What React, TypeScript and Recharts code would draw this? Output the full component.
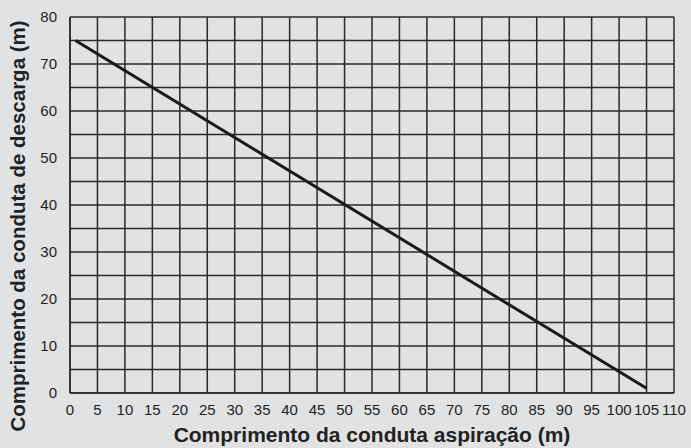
import { LineChart, Line, XAxis, YAxis, CartesianGrid, ReferenceLine, Label } from "recharts";

const xTicks = [0, 5, 10, 15, 20, 25, 30, 35, 40, 45, 50, 55, 60, 65, 70, 75, 80, 85, 90, 95, 100, 105, 110];
const yTicks = [0, 10, 20, 30, 40, 50, 60, 70, 80];
const yMinor = [5, 15, 25, 35, 45, 55, 65, 75];

const aspiracao = [1, 105];
const descarga = [75, 1];

const data = aspiracao.map((a, i) => ({ aspiracao: a, descarga: descarga[i] }));

const grid = "#2a2a2a";
const font = "'Liberation Sans', Arial, sans-serif";

export default function App() {
  return (
    <div style={{ position: "absolute", left: 0, top: 0, width: 691, height: 448, background: "#e1e2e3" }}>
      <LineChart width={691} height={448} data={data} margin={{ top: 17, right: 17, left: 30, bottom: 25 }}>
        <CartesianGrid stroke={grid} strokeWidth={1.5} />
        {yMinor.map((v) => (
          <ReferenceLine key={v} y={v} stroke={grid} strokeWidth={1.5} />
        ))}
        <XAxis
          type="number"
          dataKey="aspiracao"
          domain={[0, 110]}
          ticks={xTicks}
          interval={0}
          tickLine={false}
          axisLine={{ stroke: grid, strokeWidth: 1.5 }}
          tickMargin={5}
          height={30}
          tick={{ fill: "#1f1f1f", fontSize: 15, fontFamily: font }}
        >
          <Label
            content={() => (
              <text x={372} y={442} textAnchor="middle" fontFamily={font} fontSize={21} fontWeight="bold" fill="#222">
                Comprimento da conduta aspiração (m)
              </text>
            )}
          />
        </XAxis>
        <YAxis
          type="number"
          domain={[0, 80]}
          ticks={yTicks}
          interval={0}
          tickLine={false}
          axisLine={{ stroke: grid, strokeWidth: 1.5 }}
          tickMargin={7}
          width={40}
          tick={{ fill: "#1f1f1f", fontSize: 15, fontFamily: font }}
        >
          <Label
            content={() => (
              <text
                x={0}
                y={0}
                transform="translate(25 226) rotate(-90)"
                textAnchor="middle"
                fontFamily={font}
                fontSize={20.5}
                fontWeight="bold"
                fill="#222"
              >
                Comprimento da conduta de descarga (m)
              </text>
            )}
          />
        </YAxis>
        <Line
          type="linear"
          dataKey="descarga"
          stroke="#1a1a1a"
          strokeWidth={3}
          dot={false}
          isAnimationActive={false}
        />
      </LineChart>
    </div>
  );
}
